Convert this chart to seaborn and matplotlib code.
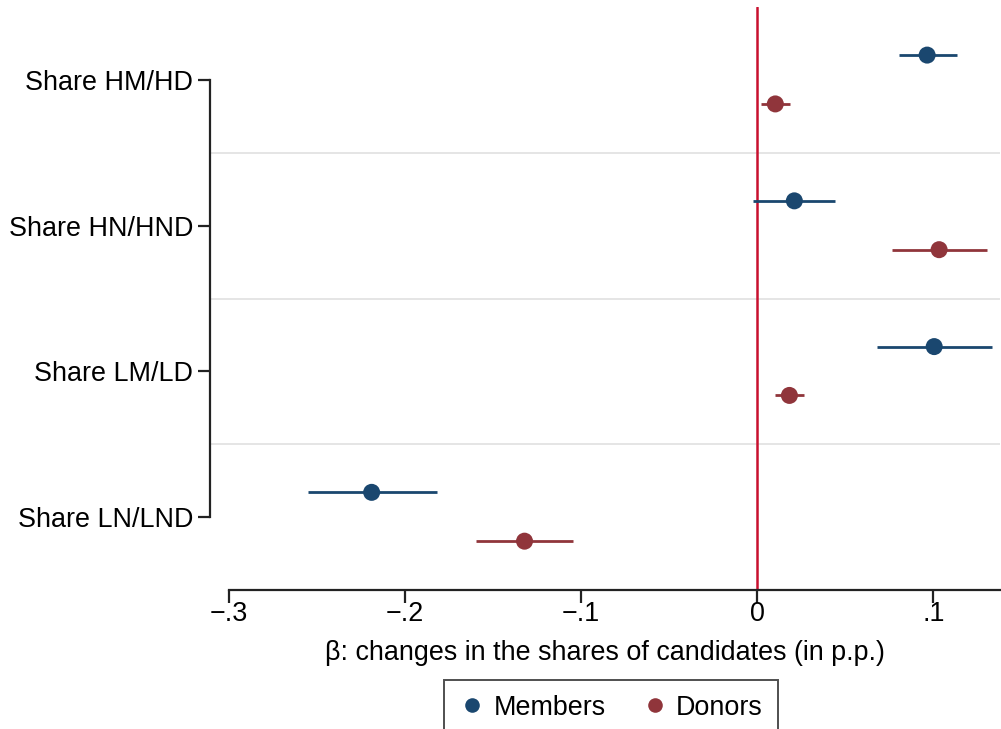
import numpy as np
import pandas as pd
import matplotlib
matplotlib.use("Agg")
import matplotlib.pyplot as plt
import seaborn as sns
from matplotlib.lines import Line2D

categories = ["Share HM/HD", "Share HN/HND", "Share LM/LD", "Share LN/LND"]
groups = ["Members", "Donors"]
members_est = [0.0964, 0.0210, 0.1004, -0.2190]
members_lo = [0.0805, -0.0023, 0.0680, -0.2552]
members_hi = [0.1134, 0.0442, 0.1333, -0.1820]
donors_est = [0.0102, 0.1032, 0.0182, -0.1322]
donors_lo = [0.0023, 0.0766, 0.0102, -0.1600]
donors_hi = [0.0187, 0.1305, 0.0267, -0.1044]
xticks = [-0.3, -0.2, -0.1, 0.0, 0.1]
xticklabels = ["\u2212.3", "\u2212.2", "\u2212.1", "0", ".1"]

colors = {"Members": "#1a476f", "Donors": "#90353b"}
offsets = {"Members": -0.17, "Donors": 0.165}

rows = []
for g, est, lo, hi in [("Members", members_est, members_lo, members_hi),
                       ("Donors", donors_est, donors_lo, donors_hi)]:
    for i, c in enumerate(categories):
        rows.append(dict(group=g, cat=c, idx=i, est=est[i], lo=lo[i], hi=hi[i]))
df = pd.DataFrame(rows)
df["ypos"] = df["idx"] + df["group"].map(offsets)

sns.set_theme(style="white")
plt.rcParams["font.family"] = ["Liberation Sans", "DejaVu Sans"]
plt.rcParams.update({"text.color": "black", "axes.labelcolor": "black",
                     "xtick.color": "black", "ytick.color": "black"})

fig = plt.figure(figsize=(10.01, 7.29), dpi=100)
ax = fig.add_axes([210/1001, 1-590/729, 790/1001, 583/729])

# gridlines between categories
for b in [0.5, 1.5, 2.5]:
    ax.axhline(b, color="#e3e3e3", lw=1.3, zorder=0)

ax.axvline(0, color="#c8102e", lw=1.8, zorder=1)

for g in groups:
    sub = df[df["group"] == g]
    ax.hlines(sub["ypos"], sub["lo"], sub["hi"], color=colors[g], lw=2.0, zorder=2)

sns.scatterplot(data=df, x="est", y="ypos", hue="group", palette=colors,
                s=150, edgecolor="none", legend=False, ax=ax, zorder=3)

ax.set_ylim(3.5, -0.5)
ax.set_xlim(-0.3 - 19/1763, (1000-758)/1763 + 0.0005)
ax.set_yticks(range(len(categories)))
ax.set_yticklabels(categories, fontsize=19.4)
ax.set_xticks(xticks)
ax.set_xticklabels(xticklabels, fontsize=19.4)
ax.set_xlabel("\u03b2: changes in the shares of candidates (in p.p.)", fontsize=19.4, labelpad=9)
ax.set_ylabel("")

for s in ["top", "right"]:
    ax.spines[s].set_visible(False)
ax.spines["left"].set_bounds(0, 3)
ax.spines["bottom"].set_bounds(-0.3, ax.get_xlim()[1])
for s in ["left", "bottom"]:
    ax.spines[s].set_color("#222222")
    ax.spines[s].set_linewidth(1.6)
ax.tick_params(axis="both", which="major", length=9, width=1.6, color="#222222",
               direction="out", left=True, bottom=True)
ax.tick_params(axis="x", pad=-1)
ax.tick_params(axis="y", pad=3)

handles = [Line2D([], [], marker="o", linestyle="none", markersize=10.5,
                  markerfacecolor=colors[g], markeredgecolor="none") for g in groups]
leg = fig.legend(handles, groups, loc="upper center", bbox_to_anchor=(611/1001, 1-680/729),
                 ncol=2, fontsize=19.4, frameon=True, fancybox=False, handletextpad=0.3,
                 columnspacing=1.3, handlelength=1.0, borderpad=0.55, borderaxespad=0)
leg.get_frame().set_edgecolor("#222222")
leg.get_frame().set_linewidth(1.4)

fig.savefig("out.png", dpi=100)
